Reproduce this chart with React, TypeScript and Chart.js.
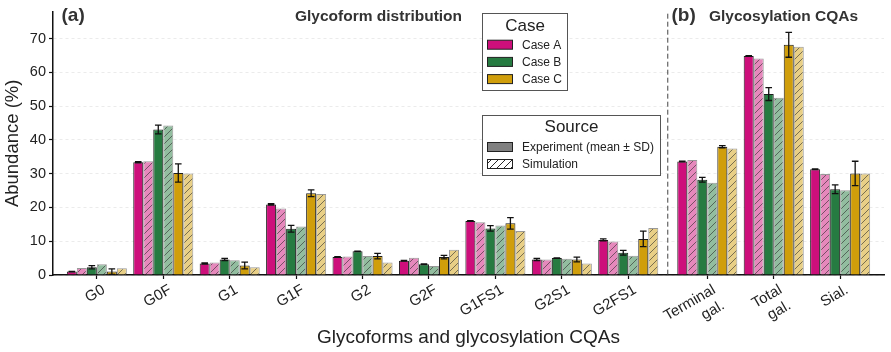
import React, { useEffect, useRef } from 'react';
import { Chart, registerables } from 'chart.js';

Chart.register(...registerables);

// ---- data -------------------------------------------------------------
const categories = ['G0', 'G0F', 'G1', 'G1F', 'G2', 'G2F', 'G1FS1', 'G2S1', 'G2FS1', 'Terminal gal.', 'Total gal.', 'Sial.'];
const tickLabels: (string | string[])[] = ['G0', 'G0F', 'G1', 'G1F', 'G2', 'G2F', 'G1FS1', 'G2S1', 'G2FS1', ['Terminal', 'gal.'], ['Total', 'gal.'], 'Sial.'];
const glycoformCount = 9; // first nine categories are glycoforms, the rest are CQAs

const caseAExp = [1.0, 33.4, 3.4, 20.9, 5.3, 4.2, 16.0, 4.6, 10.4, 33.6, 64.9, 31.3];
const caseASd = [0.1, 0.2, 0.2, 0.2, 0.1, 0.1, 0.1, 0.3, 0.3, 0.1, 0.1, 0.1];
const caseASim = [2.1, 33.7, 3.7, 19.7, 5.5, 5.1, 15.6, 4.6, 9.9, 34.1, 64.1, 29.9];

const caseBExp = [2.3, 43.1, 4.6, 13.7, 7.0, 3.2, 13.8, 5.0, 6.6, 28.2, 53.6, 25.4];
const caseBSd = [0.5, 1.3, 0.3, 1.0, 0.1, 0.1, 0.8, 0.1, 0.7, 0.7, 1.9, 1.3];
const caseBSim = [3.2, 44.3, 4.4, 14.4, 5.6, 2.7, 14.7, 4.8, 5.7, 27.3, 52.5, 25.1];

const caseCExp = [1.0, 30.2, 2.8, 24.2, 5.6, 5.3, 15.3, 4.6, 10.7, 38.0, 68.2, 30.1];
const caseCSd = [0.8, 2.7, 1.0, 1.0, 0.8, 0.5, 1.7, 0.7, 2.3, 0.3, 3.7, 3.6];
const caseCSim = [2.0, 30.1, 2.3, 24.0, 3.7, 7.5, 13.0, 3.4, 13.9, 37.5, 67.6, 30.1];

const yTickStep = 10;
const yMax = 78;

// ---- styling ----------------------------------------------------------
const FONT = '"Liberation Sans", Arial, Helvetica, sans-serif';
const TEXT = '#222222';
const caseColors = ['#CD0F7B', '#267B41', '#D09E0B'];
const caseLight = ['#E688BC', '#92BD9F', '#E8CF86'];
const caseNames = ['Case A', 'Case B', 'Case C'];

// extra spacing (in category units) between glycoforms and CQAs
const sectionGap = 0.19;
const xPositions = categories.map((_, i) => i + (i >= glycoformCount ? sectionGap : 0));

// rotated x labels are anchored a little to the right of their tick
const labelShiftX = 7;
const labelShiftY = 0;

function makeHatch(ctx: CanvasRenderingContext2D, fill: string, line: string): CanvasPattern {
  const s = 7;
  const c = document.createElement('canvas');
  c.width = s;
  c.height = s;
  const g = c.getContext('2d')!;
  g.fillStyle = fill;
  g.fillRect(0, 0, s, s);
  g.strokeStyle = line;
  g.lineWidth = 0.9;
  g.beginPath();
  g.moveTo(0, s);
  g.lineTo(s, 0);
  g.moveTo(-1, 1);
  g.lineTo(1, -1);
  g.moveTo(s - 1, s + 1);
  g.lineTo(s + 1, s - 1);
  g.stroke();
  return ctx.createPattern(c, 'repeat')!;
}

const errorBarPlugin = {
  id: 'errorBars',
  afterDatasetsDraw(chart: any) {
    const { ctx } = chart;
    const y = chart.scales.y;
    ctx.save();
    ctx.strokeStyle = '#111';
    ctx.lineWidth = 1.3;
    chart.data.datasets.forEach((ds: any, di: number) => {
      if (!ds.errors) return;
      const meta = chart.getDatasetMeta(di);
      meta.data.forEach((bar: any, i: number) => {
        const v = ds.data[i].y;
        const e = ds.errors[i];
        const top = y.getPixelForValue(v + e);
        const bot = y.getPixelForValue(Math.max(0, v - e));
        const cap = 3.3;
        ctx.beginPath();
        ctx.moveTo(bar.x, top);
        ctx.lineTo(bar.x, bot);
        ctx.moveTo(bar.x - cap, top);
        ctx.lineTo(bar.x + cap, top);
        ctx.moveTo(bar.x - cap, bot);
        ctx.lineTo(bar.x + cap, bot);
        ctx.stroke();
      });
    });
    ctx.restore();
  },
};

const dividerPlugin = {
  id: 'divider',
  beforeDatasetsDraw(chart: any) {
    const { ctx, chartArea } = chart;
    const x = chart.scales.x.getPixelForValue((xPositions[glycoformCount - 1] + xPositions[glycoformCount]) / 2);
    ctx.save();
    ctx.strokeStyle = '#444';
    ctx.lineWidth = 1;
    ctx.setLineDash([5, 3]);
    ctx.beginPath();
    ctx.moveTo(x, chartArea.top + 2);
    ctx.lineTo(x, chartArea.bottom);
    ctx.stroke();
    ctx.restore();
  },
};

function legendBox(ctx: CanvasRenderingContext2D, x: number, y: number, w: number, h: number) {
  ctx.fillStyle = 'rgba(255,255,255,0.95)';
  ctx.fillRect(x, y, w, h);
  ctx.strokeStyle = '#555';
  ctx.lineWidth = 1;
  ctx.strokeRect(x, y, w, h);
}

const annotationPlugin = {
  id: 'annotations',
  afterDraw(chart: any) {
    const ctx: CanvasRenderingContext2D = chart.ctx;
    ctx.save();
    ctx.textBaseline = 'middle';
    ctx.fillStyle = '#333';

    // panel headings
    ctx.textAlign = 'left';
    ctx.font = `bold 19px ${FONT}`;
    ctx.fillText('(a)', 61.5, 16);
    ctx.fillText('(b)', 671.5, 16);
    ctx.font = `bold 15.5px ${FONT}`;
    ctx.fillText('Glycoform distribution', 295, 17);
    ctx.fillText('Glycosylation CQAs', 709, 17);

    // "Case" legend
    legendBox(ctx, 482.5, 13.5, 85, 77);
    ctx.fillStyle = TEXT;
    ctx.textAlign = 'center';
    ctx.font = `17px ${FONT}`;
    ctx.fillText('Case', 525, 26);
    ctx.font = `12px ${FONT}`;
    caseNames.forEach((name, i) => {
      const cy = 44.7 + i * 17.2;
      ctx.fillStyle = caseColors[i];
      ctx.fillRect(487.5, cy - 4.5, 25, 9);
      ctx.strokeStyle = '#222';
      ctx.lineWidth = 1;
      ctx.strokeRect(487.5, cy - 4.5, 25, 9);
      ctx.fillStyle = TEXT;
      ctx.textAlign = 'left';
      ctx.fillText(name, 522, cy + 0.5);
    });

    // "Source" legend
    legendBox(ctx, 482.5, 115.5, 178, 60);
    ctx.fillStyle = TEXT;
    ctx.textAlign = 'center';
    ctx.font = `17px ${FONT}`;
    ctx.fillText('Source', 571.5, 127);
    ctx.font = `12px ${FONT}`;
    ctx.textAlign = 'left';
    ctx.fillStyle = '#808080';
    ctx.fillRect(487.5, 142.5, 25, 9);
    ctx.strokeStyle = '#222';
    ctx.strokeRect(487.5, 142.5, 25, 9);
    ctx.fillStyle = TEXT;
    ctx.fillText('Experiment (mean \u00B1 SD)', 522, 147.5);
    ctx.fillStyle = makeHatch(ctx, '#ffffff', '#111');
    ctx.fillRect(487.5, 159.5, 25, 9);
    ctx.strokeStyle = '#222';
    ctx.strokeRect(487.5, 159.5, 25, 9);
    ctx.fillStyle = TEXT;
    ctx.fillText('Simulation', 522, 164.5);
    ctx.restore();
  },
};

export default function App() {
  const canvasRef = useRef<HTMLCanvasElement | null>(null);

  useEffect(() => {
    const canvas = canvasRef.current;
    if (!canvas) return;
    const ctx = canvas.getContext('2d')!;

    const exp = [caseAExp, caseBExp, caseCExp];
    const sds = [caseASd, caseBSd, caseCSd];
    const sim = [caseASim, caseBSim, caseCSim];
    const toPoints = (vals: number[]) => vals.map((v, i) => ({ x: xPositions[i], y: v }));

    const datasets: any[] = [];
    for (let c = 0; c < 3; c++) {
      datasets.push({
        label: `${caseNames[c]} experiment`,
        data: toPoints(exp[c]),
        errors: sds[c],
        backgroundColor: caseColors[c],
        borderColor: '#1d1d1d',
        borderWidth: 1,
      });
      datasets.push({
        label: `${caseNames[c]} simulation`,
        data: toPoints(sim[c]),
        backgroundColor: makeHatch(ctx, caseLight[c], 'rgba(40,40,40,0.65)'),
        borderColor: 'rgba(70,70,70,0.55)',
        borderWidth: 1,
      });
    }

    const chart = new Chart(ctx, {
      type: 'bar',
      data: { datasets },
      plugins: [dividerPlugin, errorBarPlugin, annotationPlugin],
      options: {
        animation: false,
        responsive: false,
        devicePixelRatio: 1,
        layout: { padding: { top: 6, right: 7, left: 0, bottom: 0 } },
        datasets: {
          bar: { barPercentage: 1, categoryPercentage: 0.904, borderSkipped: 'start' },
        },
        plugins: { legend: { display: false }, tooltip: { enabled: false } },
        scales: {
          x: {
            type: 'linear',
            offset: false,
            min: -0.66,
            max: xPositions[xPositions.length - 1] + 0.66,
            afterBuildTicks: (scale: any) => {
              scale.ticks = xPositions.map((v) => ({ value: v }));
            },
            afterFit: (scale: any) => {
              scale.height = 77;
            },
            afterUpdate: (scale: any) => {
              if (scale.__labelShift) return;
              const compute = scale._computeLabelItems;
              scale._computeLabelItems = function (area: any) {
                const items = compute.call(this, area);
                items.forEach((it: any) => {
                  const t = it.options.translation;
                  it.options.translation = [t[0] + labelShiftX, t[1] + labelShiftY];
                });
                return items;
              };
              scale._labelItems = null;
              scale.__labelShift = true;
            },
            ticks: {
              autoSkip: false,
              minRotation: 30,
              maxRotation: 30,
              padding: 2,
              color: TEXT,
              font: { family: FONT, size: 15 },
              callback: (_v: any, i: number) => tickLabels[i],
            },
            grid: {
              offset: false,
              drawOnChartArea: false,
              drawTicks: true,
              tickLength: 4,
              tickColor: '#111',
              tickWidth: 1.2,
            },
            border: { display: true, color: '#111', width: 1.5 },
            title: {
              display: true,
              text: 'Glycoforms and glycosylation CQAs',
              color: TEXT,
              font: { family: FONT, size: 19 },
              padding: { top: 0, bottom: 3 },
            },
          },
          y: {
            type: 'linear',
            min: 0,
            max: yMax,
            afterFit: (scale: any) => {
              scale.width = 53;
            },
            ticks: {
              stepSize: yTickStep,
              includeBounds: false,
              padding: 3,
              color: TEXT,
              font: { family: FONT, size: 14.5 },
            },
            grid: {
              color: 'rgba(0,0,0,0.1)',
              lineWidth: 0.8,
              tickColor: '#111',
              tickLength: 4,
              tickWidth: 1.2,
              tickBorderDash: [],
            },
            border: { display: true, color: '#111', width: 1.5, dash: [3, 3] },
            title: {
              display: true,
              text: 'Abundance (%)',
              color: TEXT,
              font: { family: FONT, size: 18.5 },
              padding: { top: 2, bottom: 0 },
            },
          },
        },
      } as any,
    });

    return () => chart.destroy();
  }, []);

  return (
    <div style={{ position: 'absolute', left: 0, top: 0, width: 891, height: 352, background: '#ffffff' }}>
      <canvas ref={canvasRef} width={891} height={352} style={{ display: 'block' }} />
    </div>
  );
}
